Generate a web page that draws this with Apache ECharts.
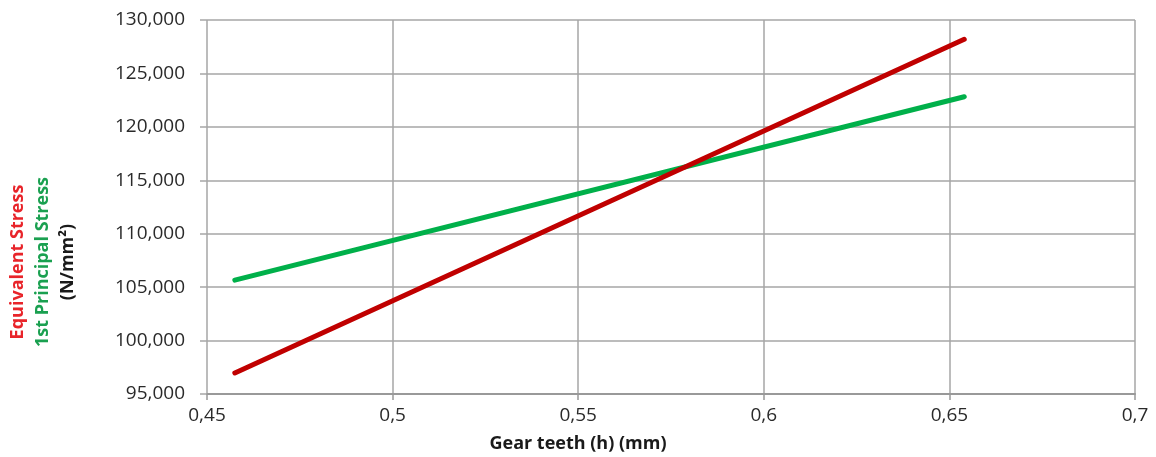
<!DOCTYPE html>
<html>
<head>
<meta charset="utf-8">
<script src="https://cdn.jsdelivr.net/npm/echarts@6/dist/echarts.min.js"></script>
<style>
  html, body { margin: 0; padding: 0; background: #fff; }
  #chart { width: 1156px; height: 457px; }
</style>
</head>
<body>
<div id="chart"></div>
<script>
// gear teeth height (mm) and stresses (N/mm2)
const teeth = [0.4575, 0.654];
const equivalentStress = [96970, 128200];
const principalStress = [105650, 122820];

const xTicks = [0.45, 0.5, 0.55, 0.6, 0.65, 0.7];
const yTicks = [95000, 100000, 105000, 110000, 115000, 120000, 125000, 130000];

const chart = echarts.init(document.getElementById("chart"));
const font = "'Open Sans', sans-serif";

let option = {
  animation: false,
  grid: { left: 207, right: 21, top: 20, bottom: 63 },
  xAxis: {
    type: "value",
    min: xTicks[0],
    max: xTicks[xTicks.length - 1],
    interval: 0.05,
    axisLine: { show: true, lineStyle: { color: "#999", width: 2 } },
    axisTick: { show: true, length: 6, lineStyle: { color: "#999", width: 1.5 } },
    axisLabel: {
      fontFamily: font, fontSize: 19, color: "#2a2a2a", margin: 12,
      formatter: (v) => String(+v.toFixed(2)).replace(".", ",")
    },
    splitLine: { show: true, lineStyle: { color: "#a6a6a6", width: 1.5 } }
  },
  yAxis: {
    type: "value",
    min: yTicks[0],
    max: yTicks[yTicks.length - 1],
    interval: 5000,
    axisLine: { show: false },
    axisTick: { show: true, length: 7, lineStyle: { color: "#a6a6a6", width: 1.5 } },
    axisLabel: {
      fontFamily: font, fontSize: 19, color: "#2a2a2a", margin: 22,
      formatter: (v) => v.toLocaleString("en-US")
    },
    splitLine: { show: true, lineStyle: { color: "#a6a6a6", width: 1.5 } }
  },
  graphic: [
    // x title sits centred on the whole picture, not on the plot
    {
      type: "text", x: 578, y: 444,
      style: { text: "Gear teeth (h) (mm)", fill: "#1a1a1a", font: "bold 18px " + font, align: "center", verticalAlign: "middle" }
    },
    {
      type: "text", x: 18, y: 262, rotation: Math.PI / 2,
      style: { text: "Equivalent Stress", fill: "#e8242a", font: "bold 18px " + font, align: "center", verticalAlign: "middle" }
    },
    {
      type: "text", x: 43, y: 262, rotation: Math.PI / 2,
      style: { text: "1st Principal Stress", fill: "#1aa050", font: "bold 18px " + font, align: "center", verticalAlign: "middle" }
    },
    {
      type: "text", x: 68, y: 262, rotation: Math.PI / 2,
      style: { text: "(N/mm²)", fill: "#1a1a1a", font: "bold 18px " + font, align: "center", verticalAlign: "middle" }
    }
  ],
  series: [
    {
      name: "Equivalent Stress",
      type: "line",
      data: teeth.map((t, i) => [t, equivalentStress[i]]),
      showSymbol: false,
      lineStyle: { color: "#c00000", width: 5, cap: "round" },
      z: 3
    },
    {
      name: "1st Principal Stress",
      type: "line",
      data: teeth.map((t, i) => [t, principalStress[i]]),
      showSymbol: false,
      lineStyle: { color: "#00b04a", width: 5, cap: "round" },
      z: 2
    }
  ]
};
option && chart.setOption(option);
</script>
</body>
</html>
